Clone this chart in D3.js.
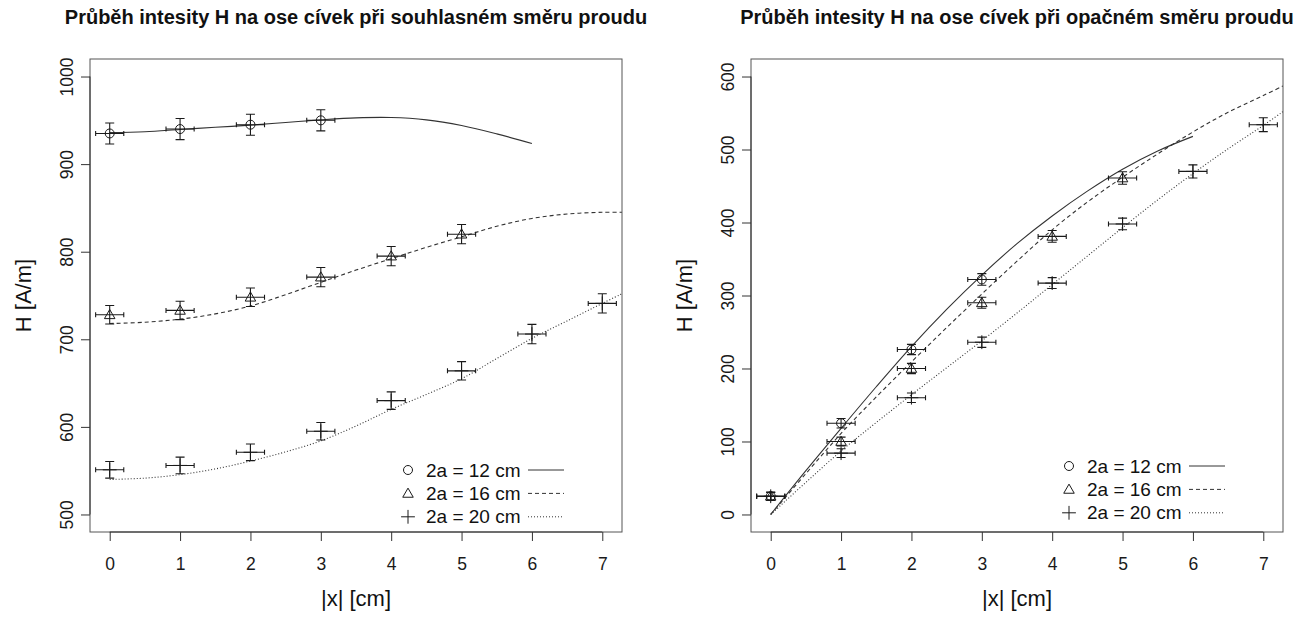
<!DOCTYPE html>
<html>
<head>
<meta charset="utf-8">
<script src="https://cdn.jsdelivr.net/npm/d3@7"></script>
<style>
  body { margin: 0; background: #fff; }
  svg { font-family: "Liberation Sans", Arial, Helvetica, sans-serif; }
</style>
</head>
<body>
<div id="chart"></div>
<script>
const width = 1301;
const height = 617;

// measured positions |x| [cm] and their uncertainty
const xMeas = [0, 1, 2, 3, 4, 5, 6, 7];
const xErr = 0.2;
const xTicks = [0, 1, 2, 3, 4, 5, 6, 7];
const xFit = [0, 0.5, 1, 1.5, 2, 2.5, 3, 3.5, 4, 4.5, 5, 5.5, 6, 6.5, 7, 7.28];

const legendLabels = ["2a = 12 cm", "2a = 16 cm", "2a = 20 cm"];

// left panel - currents in the same direction
const sameTitle = "Průběh intesity H na ose cívek při souhlasném směru proudu";
const sameTicks = [500, 600, 700, 800, 900, 1000];
const sameH12 = [935, 940, 945, 950];
const sameH16 = [728, 733, 748, 771, 795, 820];
const sameH20 = [551, 556, 571, 595, 630, 664, 706, 741];
const sameErr12 = [12, 12, 12, 12];
const sameErr16 = [10.5, 10.5, 10.5, 11, 11, 11];
const sameErr20 = [9.5, 9.5, 9.5, 10, 10, 10.5, 11, 11];
const sameFit12 = [936, 937, 939.5, 942, 944.5, 947.5, 950.5, 952.8, 953.2, 950.5, 944, 934.5, 923.5];
const sameFit16 = [718, 719.5, 723, 729, 738, 751, 765, 779, 792, 805, 817, 829, 838, 843, 845, 845];
const sameFit20 = [540, 541.5, 545.5, 552, 561, 571.5, 584, 601, 620, 637, 655, 678, 701, 721, 741, 752];

// right panel - currents in opposite directions
const oppTitle = "Průběh intesity H na ose cívek při opačném směru proudu";
const oppTicks = [0, 100, 200, 300, 400, 500, 600];
const oppH12 = [25, 125, 226, 322];
const oppH16 = [25, 100, 200, 290, 381, 461];
const oppH20 = [25, 84, 160, 236, 317, 398, 470, 534];
const oppErr12 = [5.5, 6.5, 7, 8];
const oppErr16 = [5.5, 6, 7, 7.5, 8, 8.5];
const oppErr20 = [5.5, 6, 6.5, 7, 7.5, 8, 9, 9.5];
const oppFit12 = [0, 60, 118, 175, 230, 281, 328, 371, 409, 443, 473, 498, 518];
const oppFit16 = [0, 56, 111, 161, 209, 256, 302, 347, 390, 428, 462, 494, 524, 551, 574, 587];
const oppFit20 = [0, 44, 87, 126, 164, 201, 238, 276, 315, 354, 393, 431, 467, 501, 533, 552];

const inkCol = "#1a1a1a";
const lineCol = "#333";
const boxCol = "#555";
const dashes = [null, "4,3", "1,2"];
const shapes = ["circle", "triangle", "plus"];

const panels = [
  {
    id: "same", title: sameTitle, left: 90, right: 622, yDomain: [480, 1020], yTicks: sameTicks,
    legendX: 408, legendY: 470,
    series: [
      {h: sameH12, err: sameErr12, fit: sameFit12},
      {h: sameH16, err: sameErr16, fit: sameFit16},
      {h: sameH20, err: sameErr20, fit: sameFit20}
    ]
  },
  {
    id: "opp", title: oppTitle, left: 751, right: 1283, yDomain: [-24, 624], yTicks: oppTicks,
    legendX: 1069, legendY: 466,
    series: [
      {h: oppH12, err: oppErr12, fit: oppFit12},
      {h: oppH16, err: oppErr16, fit: oppFit16},
      {h: oppH20, err: oppErr20, fit: oppFit20}
    ]
  }
];
const plotTop = 59;
const plotBottom = 532;

const svg = d3.select("#chart").append("svg")
  .attr("width", width)
  .attr("height", height)
  .style("background-color", "#fff");

function marker(g, shape, cx, cy) {
  if (shape === "circle") {
    g.append("circle").attr("cx", cx).attr("cy", cy).attr("r", 4.5)
      .attr("fill", "none").attr("stroke", inkCol);
  } else {
    const type = shape === "triangle" ? d3.symbolTriangle : (d3.symbolPlus || d3.symbolCross);
    const size = shape === "triangle" ? 48 : 64;
    g.append("path")
      .attr("d", d3.symbol().type(type).size(size)())
      .attr("transform", `translate(${cx},${cy + (shape === "triangle" ? 0.8 : 0)})`)
      .attr("fill", "none").attr("stroke", inkCol);
  }
}

function renderPanel(p) {
  const x = d3.scaleLinear().domain([-0.28, 7.28]).range([p.left, p.right]);
  const y = d3.scaleLinear().domain(p.yDomain).range([plotBottom, plotTop]);
  const g = svg.append("g").attr("class", "panel-" + p.id);

  g.append("clipPath").attr("id", "clip-" + p.id)
    .append("rect")
    .attr("x", p.left).attr("y", plotTop)
    .attr("width", p.right - p.left).attr("height", plotBottom - plotTop);

  // fitted curves
  const line = d3.line()
    .x(d => x(d[0]))
    .y(d => y(d[1]))
    .curve(d3.curveCatmullRom.alpha(0.5));

  g.append("g").attr("clip-path", `url(#clip-${p.id})`)
    .selectAll("path")
    .data(p.series)
    .join("path")
    .attr("d", d => line(d.fit.map((v, i) => [xFit[i], v])))
    .attr("fill", "none")
    .attr("stroke", lineCol)
    .attr("stroke-width", 1.1)
    .attr("stroke-dasharray", (d, i) => dashes[i]);

  // error bars and markers
  p.series.forEach((s, si) => {
    const sg = g.append("g").attr("class", "series-" + si);
    s.h.forEach((v, i) => {
      const cx = x(xMeas[i]);
      const cy = y(v);
      const y1 = y(v - s.err[i]);
      const y2 = y(v + s.err[i]);
      const x1 = x(xMeas[i] - xErr);
      const x2 = x(xMeas[i] + xErr);
      const path = d3.path();
      path.moveTo(cx, y1); path.lineTo(cx, y2);
      path.moveTo(cx - 4.5, y1); path.lineTo(cx + 4.5, y1);
      path.moveTo(cx - 4.5, y2); path.lineTo(cx + 4.5, y2);
      path.moveTo(x1, cy); path.lineTo(x2, cy);
      path.moveTo(x1, cy - 2.5); path.lineTo(x1, cy + 2.5);
      path.moveTo(x2, cy - 2.5); path.lineTo(x2, cy + 2.5);
      sg.append("path").attr("d", path.toString())
        .attr("fill", "none").attr("stroke", inkCol).attr("stroke-width", 1.1);
      marker(sg, shapes[si], cx, cy);
    });
  });

  // box
  g.append("rect")
    .attr("x", p.left).attr("y", plotTop)
    .attr("width", p.right - p.left).attr("height", plotBottom - plotTop)
    .attr("fill", "none").attr("stroke", boxCol);

  // x axis
  const xAxisG = g.append("g")
    .attr("transform", `translate(0,${plotBottom})`)
    .call(d3.axisBottom(x).tickValues(xTicks).tickSize(9).tickFormat(d3.format("d")));
  xAxisG.select(".domain").remove();
  xAxisG.append("line")
    .attr("x1", x(xTicks[0])).attr("x2", x(xTicks[xTicks.length - 1]))
    .attr("stroke", lineCol);
  xAxisG.selectAll(".tick line").attr("stroke", lineCol);
  xAxisG.selectAll(".tick text")
    .attr("y", 38).attr("dy", null)
    .attr("fill", inkCol)
    .style("font-size", "17.5px");
  xAxisG.attr("font-family", null).attr("font-size", null);

  // y axis
  const yAxisG = g.append("g")
    .attr("transform", `translate(${p.left},0)`)
    .call(d3.axisLeft(y).tickValues(p.yTicks).tickSize(9).tickFormat(d3.format("d")));
  yAxisG.select(".domain").remove();
  yAxisG.append("line")
    .attr("y1", y(p.yTicks[0])).attr("y2", y(p.yTicks[p.yTicks.length - 1]))
    .attr("stroke", lineCol);
  yAxisG.selectAll(".tick line").attr("stroke", lineCol);
  yAxisG.selectAll(".tick text")
    .attr("x", null).attr("dy", null)
    .attr("transform", "translate(-17,0) rotate(-90)")
    .attr("text-anchor", "middle")
    .attr("fill", inkCol)
    .style("font-size", "17.5px");
  yAxisG.attr("font-family", null).attr("font-size", null);

  const cx = (p.left + p.right) / 2;
  const cy = (plotTop + plotBottom) / 2;

  // title
  g.append("text")
    .attr("x", cx).attr("y", 24)
    .attr("text-anchor", "middle")
    .style("font-size", "20px")
    .style("font-weight", "bold")
    .attr("fill", "#111")
    .text(p.title);

  // axis titles
  g.append("text")
    .attr("x", cx).attr("y", 606)
    .attr("text-anchor", "middle")
    .style("font-size", "22px")
    .attr("fill", "#111")
    .text("|x| [cm]");
  g.append("text")
    .attr("transform", `translate(${p.left - 59},${cy}) rotate(-90)`)
    .attr("text-anchor", "middle")
    .style("font-size", "22px")
    .attr("fill", "#111")
    .text("H [A/m]");

  // legend
  const legendG = g.append("g").attr("class", "legend");
  p.series.forEach((s, i) => {
    const ly = p.legendY + i * 23.4;
    marker(legendG, shapes[i], p.legendX, ly);
    legendG.append("text")
      .attr("x", p.legendX + 18).attr("y", ly + 6.5)
      .style("font-size", "19px")
      .attr("fill", "#111")
      .text(legendLabels[i]);
    legendG.append("line")
      .attr("x1", p.legendX + 120).attr("x2", p.legendX + 156)
      .attr("y1", ly).attr("y2", ly)
      .attr("stroke", lineCol)
      .attr("stroke-dasharray", dashes[i]);
  });
}

panels.forEach(renderPanel);
</script>
</body>
</html>
